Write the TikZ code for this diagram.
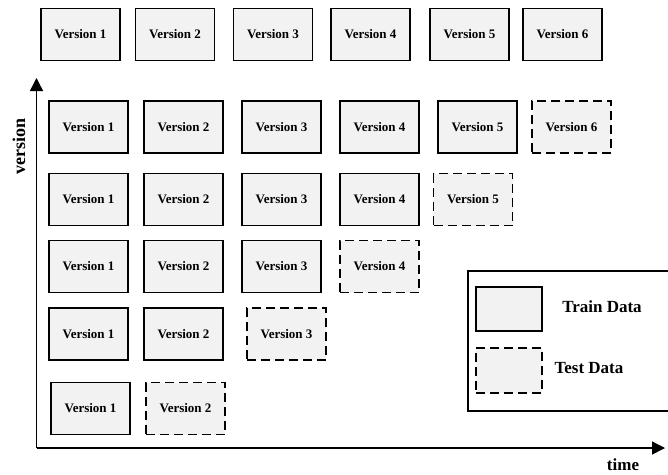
\documentclass[tikz,border=0pt]{standalone}
\usepackage{fontspec}
\setmainfont{Liberation Serif}
\usetikzlibrary{arrows.meta}
\definecolor{boxfill}{HTML}{F2F2F2}
\begin{document}
\begin{tikzpicture}[x=1pt,y=-1pt,
  trainbox/.style={draw=black, fill=boxfill, line width=1.5pt, minimum width=79pt, minimum height=52pt, inner sep=0pt, font=\fontsize{13}{15}\selectfont\bfseries},
  testbox/.style={trainbox, dash pattern=on 9pt off 5pt},
  axis/.style={line width=1.4pt, -{Triangle[length=13pt,width=13pt]}},
  biglabel/.style={font=\fontsize{17}{20}\selectfont\bfseries, inner sep=0pt}
]
\useasboundingbox (0,0) rectangle (668,474);
% top row
\node[trainbox] (t1) at (80.5,34.5) {Version 1};
\node[trainbox] (t2) at (175,34.5) {Version 2};
\node[trainbox] (t3) at (273,34.5) {Version 3};
\node[trainbox] (t4) at (370.5,34.5) {Version 4};
\node[trainbox] (t5) at (469.5,34.5) {Version 5};
\node[trainbox] (t6) at (562.5,34.5) {Version 6};
% row 1
\node[trainbox] (a1) at (88.5,127) {Version 1};
\node[trainbox] (a2) at (183.5,127) {Version 2};
\node[trainbox] (a3) at (281.5,127) {Version 3};
\node[trainbox] (a4) at (379.5,127) {Version 4};
\node[trainbox] (a5) at (477.5,127) {Version 5};
\node[testbox] (a6) at (571.5,127) {Version 6};
% row 2
\node[trainbox] (b1) at (88.5,199.5) {Version 1};
\node[trainbox] (b2) at (183.5,199.5) {Version 2};
\node[trainbox] (b3) at (281.5,199.5) {Version 3};
\node[trainbox] (b4) at (379.5,199.5) {Version 4};
\node[testbox] (b5) at (473,199.5) {Version 5};
% row 3
\node[trainbox] (c1) at (88.5,266.5) {Version 1};
\node[trainbox] (c2) at (183.5,266.5) {Version 2};
\node[trainbox] (c3) at (281.5,266.5) {Version 3};
\node[testbox] (c4) at (379.5,266.5) {Version 4};
% row 4
\node[trainbox] (d1) at (88.5,334) {Version 1};
\node[trainbox] (d2) at (183.5,334) {Version 2};
\node[testbox] (d3) at (286.5,334) {Version 3};
% row 5
\node[trainbox] (e1) at (90.5,408.5) {Version 1};
\node[testbox] (e2) at (185.5,408.5) {Version 2};
% axes
\coordinate (O) at (36.5,448);
\coordinate (ytip) at (36.5,78);
\coordinate (xtip) at (665,448);
\draw[axis] (O) -- (ytip);
\draw[axis] (O) -- (xtip);
\node[biglabel, rotate=90] (vlab) at (19,146) {\fontsize{18}{20}\selectfont version};
\node[biglabel] (tlab) at (623,465) {time};
% legend
\begin{scope}
\clip (0,0) rectangle (668,474);
\draw[line width=1.5pt, fill=white] (668.5,271) -- (468,271) -- (468,411) -- (668.5,411);
\end{scope}
\node[trainbox, minimum width=66pt, minimum height=44pt] (ltrain) at (509,309) {};
\node[testbox, minimum width=66pt, minimum height=45pt] (ltest) at (509,370.5) {};
\node[biglabel] (ltrainl) at (602,307) {Train Data};
\node[biglabel] (ltestl) at (589,368) {Test Data};
\end{tikzpicture}
\end{document}
